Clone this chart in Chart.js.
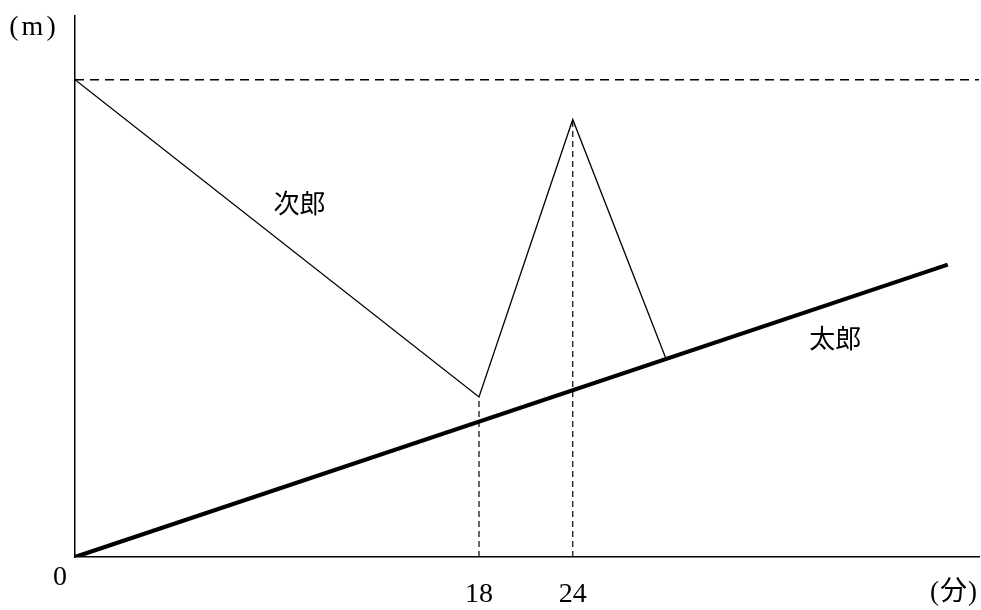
<!DOCTYPE html>
<html>
<head>
<meta charset="utf-8">
<script src="https://cdn.jsdelivr.net/npm/chart.js@4/dist/chart.umd.min.js"></script>
<style>
  html, body { margin: 0; padding: 0; background: #ffffff; }
  #c { display: block; }
</style>
</head>
<body>
<canvas id="c" width="981" height="610"></canvas>
<script>
// ---- data ----
const jiroMinutes   = [0, 18, 24, 30];
const jiroDistance  = [2400, 805, 2200, 990];
const taroMinutes   = [0, 48];
const taroDistance  = [0, 1470];
const startDistance = 2400;          // dashed horizontal level
const guideMinutes  = [18, 24];      // dashed vertical guides
const xTickLabels   = ['18', '24'];
const axisMaxMinutes  = 50;
const axisMaxDistance = 2720;
const seriesNames = ['太郎', '次郎'];

// ---- schematic (broken) time axis: first 18 minutes are drawn stretched ----
const BREAK_VALUE = 18;
const BREAK_FRACTION = 404 / 904;
class BrokenLinearScale extends Chart.LinearScale {
  _toDecimal(v) {
    const max = this.max, min = this.min;
    if (v <= BREAK_VALUE) return (v - min) / (BREAK_VALUE - min) * BREAK_FRACTION;
    return BREAK_FRACTION + (v - BREAK_VALUE) / (max - BREAK_VALUE) * (1 - BREAK_FRACTION);
  }
  getPixelForValue(value) {
    if (value === null || value === undefined || isNaN(value)) return NaN;
    return this.getPixelForDecimal(this._toDecimal(value));
  }
  getValueForPixel(pixel) {
    const d = this.getDecimalForPixel(pixel);
    if (d <= BREAK_FRACTION) return this.min + d / BREAK_FRACTION * (BREAK_VALUE - this.min);
    return BREAK_VALUE + (d - BREAK_FRACTION) / (1 - BREAK_FRACTION) * (this.max - BREAK_VALUE);
  }
}
BrokenLinearScale.id = 'brokenLinear';
BrokenLinearScale.defaults = Chart.LinearScale.defaults;
Chart.register(BrokenLinearScale);

const pts = (xs, ys) => xs.map((x, i) => ({ x: x, y: ys[i] }));
const jiroAt = m => jiroDistance[jiroMinutes.indexOf(m)];

const datasets = [
  { label: seriesNames[0], data: pts(taroMinutes, taroDistance),
    borderColor: '#000', borderWidth: 4.2, borderCapStyle: 'butt' },
  { label: seriesNames[1], data: pts(jiroMinutes, jiroDistance),
    borderColor: '#000', borderWidth: 1.3, borderJoinStyle: 'miter' },
  { label: 'start', data: [{ x: 0, y: startDistance }, { x: axisMaxMinutes, y: startDistance }],
    borderColor: '#000', borderWidth: 1.5, borderDash: [9, 6] }
].concat(guideMinutes.map(m => ({
  label: 'guide' + m, data: [{ x: m, y: 0 }, { x: m, y: jiroAt(m) }],
  borderColor: '#000', borderWidth: 1.2, borderDash: [6, 4]
})));
datasets.forEach(d => { d.pointRadius = 0; d.tension = 0; d.fill = false; });

const textPlugin = {
  id: 'texts',
  afterDraw(chart) {
    const ctx = chart.ctx, ca = chart.chartArea;
    const xs = chart.scales.x, ys = chart.scales.y;
    ctx.save();
    ctx.fillStyle = '#000';
    ctx.textAlign = 'center';
    ctx.textBaseline = 'middle';
    ctx.font = '28px "Liberation Serif"';
    ctx.fillText('0', ca.left - 15, ca.bottom + 21);
    guideMinutes.forEach((m, i) => ctx.fillText(xTickLabels[i], xs.getPixelForValue(m), ca.bottom + 38));
    try { ctx.letterSpacing = '3px'; } catch (e) {}
    ctx.fillText('(m)', ca.left - 41, ca.top + 12);
    try { ctx.letterSpacing = '1px'; } catch (e) {}
    ctx.font = '27px "Liberation Serif", "Noto Sans CJK JP"';
    ctx.fillText('(分)', ca.right - 25, ca.bottom + 36);
    try { ctx.letterSpacing = '0px'; } catch (e) {}
    ctx.font = '26px "Noto Sans CJK JP"';
    ctx.fillText(seriesNames[1], xs.getPixelForValue(10), ys.getPixelForValue(1780));
    ctx.fillText(seriesNames[0], xs.getPixelForValue(40.8), ys.getPixelForValue(1100));
    ctx.restore();
  }
};

const axisCommon = {
  display: true,
  grid: { display: false, drawTicks: false },
  ticks: { display: false },
  border: { display: true, color: '#000', width: 1.5 }
};

new Chart(document.getElementById('c'), {
  type: 'line',
  data: { datasets: datasets },
  options: {
    responsive: false,
    animation: false,
    devicePixelRatio: 1,
    layout: { padding: { left: 75, top: 16, right: 2, bottom: 53 } },
    plugins: { legend: { display: false }, tooltip: { enabled: false } },
    scales: {
      x: Object.assign({ type: 'brokenLinear', min: 0, max: axisMaxMinutes }, axisCommon),
      y: Object.assign({ type: 'linear', min: 0, max: axisMaxDistance }, axisCommon)
    }
  },
  plugins: [textPlugin]
});
</script>
</body>
</html>
